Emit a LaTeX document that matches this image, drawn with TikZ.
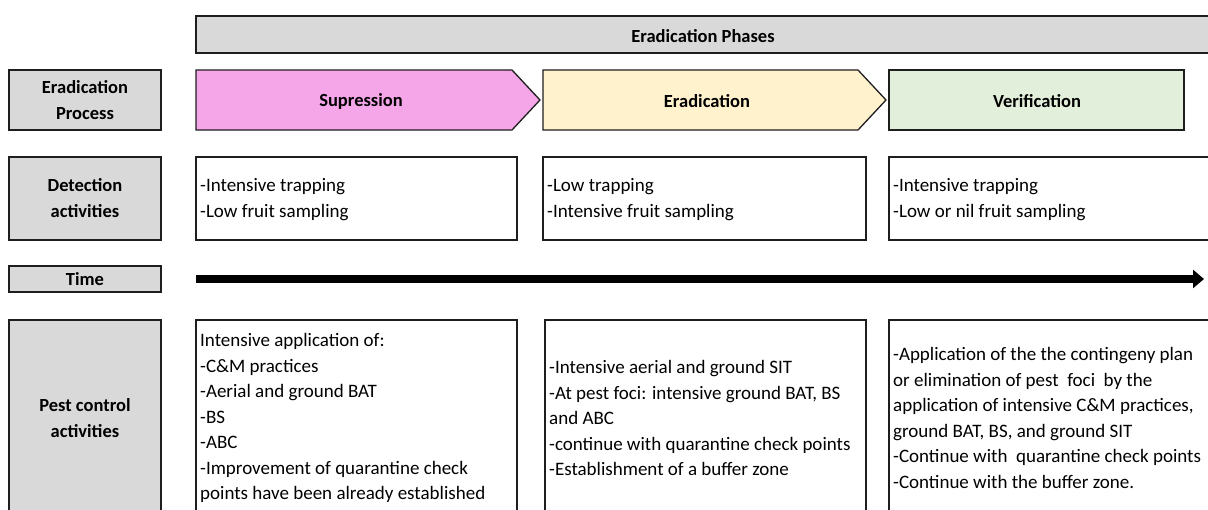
\documentclass[tikz,border=0pt]{standalone}
\usepackage{fontspec}
\setmainfont{Carlito}
\usetikzlibrary{arrows.meta}
\definecolor{lblgray}{HTML}{D9D9D9}
\definecolor{edge}{HTML}{1E1E1E}
\definecolor{suppink}{HTML}{F4A6E8}
\definecolor{eradyel}{HTML}{FFF2CC}
\definecolor{vergreen}{HTML}{E2EFDA}
\begin{document}
\begin{tikzpicture}[x=1pt,y=-1pt,
  box/.style={draw=edge, line width=1.3pt},
  lblbox/.style={box, fill=lblgray, inner sep=0, minimum width=152pt, align=center,
     font=\bfseries\fontsize{18.5}{26}\selectfont},
  head/.style={font=\bfseries\fontsize{18.5}{26}\selectfont, inner sep=0},
  txt/.style={font=\fontsize{19}{25.5}\selectfont, align=left, anchor=west, inner sep=0}]
\useasboundingbox (0,0) rectangle (1208,509);
\clip (0,0) rectangle (1208,509);
\fill[white] (0,0) rectangle (1208,509);

% phase bar
\draw[box, fill=lblgray] (196,16) rectangle (1215,53);
\node[head] (phases) at (703,36) {Eradication Phases};

% left labels
\node[lblbox, minimum height=60pt] (lproc) at (85,100) {Eradication\\Process};
\node[lblbox, minimum height=83pt] (ldet) at (85,198.5) {Detection\\activities};
\node[lblbox, minimum height=26pt] (ltime) at (85,279) {Time};
\draw[box, fill=lblgray] (9,320) rectangle (161,520);
\node[head, align=center] (lpest) at (85,418) {Pest control\\activities};

% process arrows
\draw[box, fill=suppink] (196,70) -- (512,70) -- (540,100) -- (512,130) -- (196,130) -- cycle;
\node[head] (sup) at (361,101) {Supression};
\draw[box, fill=eradyel] (543,70) -- (858,70) -- (886,100) -- (858,130) -- (543,130) -- cycle;
\node[head] (era) at (707,101) {Eradication};
\draw[box, fill=vergreen] (889,70) rectangle (1184,130);
\node[head] (ver) at (1037,101) {Verification};

% detection boxes
\draw[box] (196,157) rectangle (517,240);
\draw[box] (543,157) rectangle (866,240);
\draw[box] (889,157) rectangle (1215,240);
\node[txt] (d1) at (200,199.5) {-Intensive trapping\\-Low fruit sampling};
\node[txt] (d2) at (547,199.5) {-Low trapping\\-Intensive fruit sampling};
\node[txt] (d3) at (893,199.5) {-Intensive trapping\\-Low or nil fruit sampling};

% time arrow
\coordinate (ts) at (196,279);
\coordinate (te) at (1204,279);
\draw[line width=8pt, -{Triangle[length=11pt,width=18pt]}] (ts) -- (te);

% pest control boxes
\draw[box] (196,320) rectangle (517,520);
\draw[box] (545,320) rectangle (866,520);
\draw[box] (889,320) rectangle (1215,520);
\node[txt] (p1) at (200,418) {Intensive application of:\\-C\&M practices\\-Aerial and ground BAT\\-BS\\-ABC\\-Improvement of quarantine check\\points have been already established};
\node[txt] (p2) at (549,418) {-Intensive aerial and ground SIT\\-At pest foci: intensive ground BAT, BS\\and ABC\\-continue with quarantine check points\\-Establishment of a buffer zone};
\node[txt] (p3) at (893,418) {-Application of the the contingeny plan\\or elimination of pest\ \ foci\ \ by the\\application of intensive C\&M practices,\\ground BAT, BS, and ground SIT\\-Continue with\ \ quarantine check points\\-Continue with the buffer zone.};
\end{tikzpicture}
\end{document}
